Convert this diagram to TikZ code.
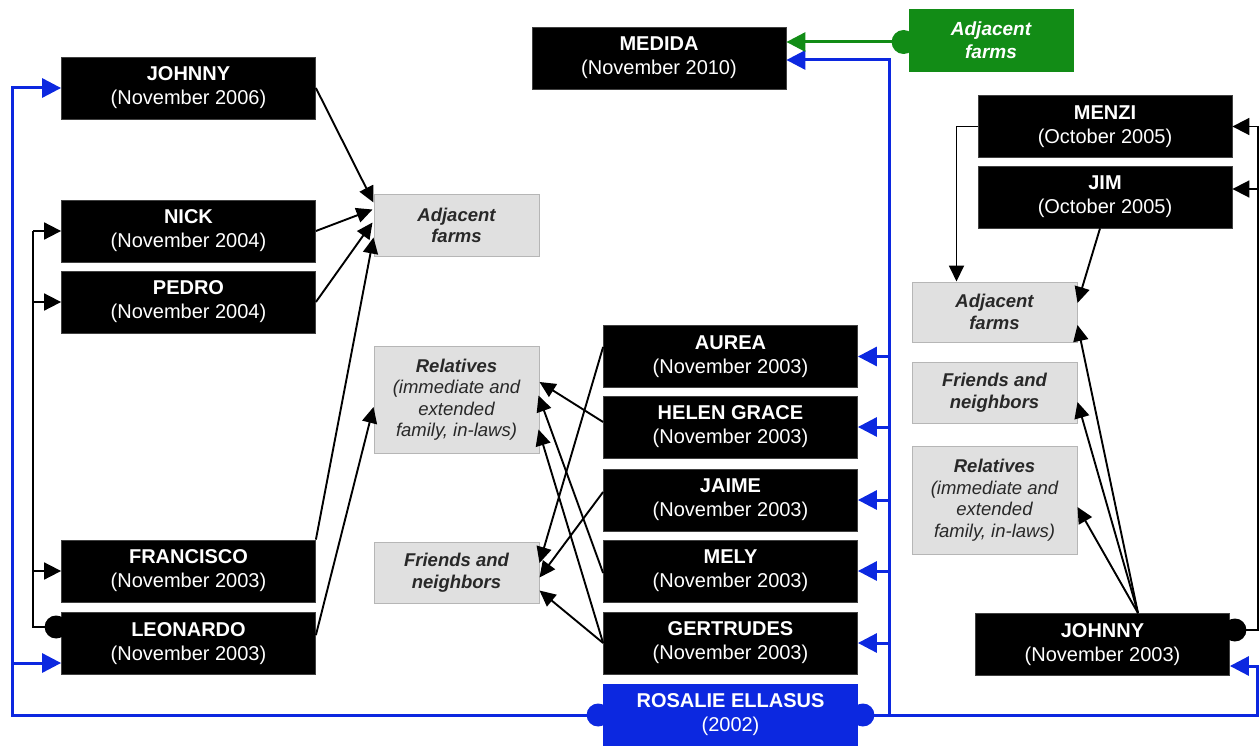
\documentclass[tikz,border=0pt]{standalone}
\usepackage{fontspec}
\setmainfont{Liberation Sans}
\usetikzlibrary{arrows.meta,calc}
\definecolor{rosablue}{RGB}{12,40,224}
\definecolor{farmgreen}{RGB}{18,140,22}
\definecolor{boxgray}{RGB}{224,224,224}
\definecolor{edgegray}{RGB}{182,182,182}
\definecolor{labelgray}{RGB}{40,40,40}
\begin{document}
\begin{tikzpicture}[x=1pt,y=-1pt,
  person/.style={rectangle, fill=black, draw=black!75, line width=0.8pt, text=white,
    minimum width=254pt, minimum height=62pt, inner sep=0pt, align=center,
    font=\fontsize{20}{24}\selectfont},
  source/.style={rectangle, fill=boxgray, draw=edgegray, line width=1pt, text=labelgray,
    minimum width=165pt, minimum height=61pt, inner sep=0pt, align=center,
    font=\fontsize{18.5}{21.5}\selectfont\itshape},
  conn/.style={draw=black, line width=1.9pt, -{Triangle[length=16pt,width=15pt]}},
  kbus/.style={draw=black, line width=1.8pt},
  karrow/.style={kbus, -{Triangle[length=17pt,width=17pt]}},
  bbus/.style={draw=rosablue, line width=3pt},
  barrow/.style={bbus, -{Triangle[length=19pt,width=19pt]}},
]
\useasboundingbox (0,0) rectangle (1260,746);

% ---- people, left column
\node[person] (johnnyL)  at (188.5,88)    {\textbf{JOHNNY}\\(November 2006)};
\node[person] (nick)     at (188.5,231)   {\textbf{NICK}\\(November 2004)};
\node[person] (pedro)    at (188.5,302)   {\textbf{PEDRO}\\(November 2004)};
\node[person] (francisco)at (188.5,571)   {\textbf{FRANCISCO}\\(November 2003)};
\node[person] (leonardo) at (188.5,643.5) {\textbf{LEONARDO}\\(November 2003)};

% ---- people, middle column
\node[person] (medida)    at (659,58)     {\textbf{MEDIDA}\\(November 2010)};
\node[person] (aurea)     at (730.5,356.5){\textbf{AUREA}\\(November 2003)};
\node[person] (helen)     at (730.5,427)  {\textbf{HELEN GRACE}\\(November 2003)};
\node[person] (jaime)     at (730.5,500)  {\textbf{JAIME}\\(November 2003)};
\node[person] (mely)      at (730.5,571)  {\textbf{MELY}\\(November 2003)};
\node[person] (gertrudes) at (730.5,643)  {\textbf{GERTRUDES}\\(November 2003)};
\node[person, fill=rosablue, draw=rosablue] (rosalie) at (730.5,715)
  {\textbf{ROSALIE ELLASUS}\\(2002)};

% ---- people, right column
\node[person] (menzi)   at (1105,126.5)  {\textbf{MENZI}\\(October 2005)};
\node[person] (jim)     at (1105,197)    {\textbf{JIM}\\(October 2005)};
\node[person] (johnnyR) at (1102.5,644.5){\textbf{JOHNNY}\\(November 2003)};

% ---- sources of information
\node[person, fill=farmgreen, draw=farmgreen, minimum width=164pt,
  font=\fontsize{19}{23}\selectfont\bfseries\itshape] (adjG) at (991,40) {Adjacent\\farms};
\node[source] (adjL) at (456.5,225.5) {\bfseries Adjacent\\\bfseries farms};
\node[source, minimum height=107pt] (relL) at (456.5,399.5)
  {\textbf{Relatives}\\(immediate and\\extended\\family, in-laws)};
\node[source] (friL) at (456.5,572.5) {\bfseries Friends and\\\bfseries neighbors};
\node[source, minimum height=60pt] (adjR) at (994.5,312) {\bfseries Adjacent\\\bfseries farms};
\node[source] (friR) at (994.5,392.5) {\bfseries Friends and\\\bfseries neighbors};
\node[source, minimum height=108pt] (relR) at (994.5,500)
  {\textbf{Relatives}\\(immediate and\\extended\\family, in-laws)};

% ---- bus positions and attachment points
\coordinate (bL) at (12,0);
\coordinate (bM) at (889,0);
\coordinate (bR) at (1257,0);
\coordinate (kL) at (33,0);
\coordinate (kR) at (1258,0);
\coordinate (rosW)  at ($(rosalie.west)+(-5,0)$);
\coordinate (rosE)  at ($(rosalie.east)+(5,0)$);
\coordinate (greenW) at ($(adjG.west)+(-5,2)$);
\coordinate (leoDot) at ($(leonardo.west)+(-5,-16.5)$);
\coordinate (jrDot)  at ($(johnnyR.east)+(5,-14.5)$);
\coordinate (leoIn)  at ($(leonardo.west)+(0,19.5)$);
\coordinate (medIn)  at ($(medida.east)+(0,2)$);
\coordinate (jrIn)   at ($(johnnyR.east)+(0,21.5)$);
\coordinate (jimIn)  at ($(jim.east)+(0,-8)$);

% ---- blue: Rosalie reaching everybody
\draw[barrow] (rosW) -- (bL |- rosW) -- (bL |- johnnyL.west) -- (johnnyL.west);
\draw[barrow] (bL |- leoIn) -- (leoIn);
\draw[barrow] (rosE) -- (bM |- rosE) -- (bM |- medIn) -- (medIn);
\foreach \n in {aurea,helen,jaime,mely,gertrudes}
  \draw[barrow] (bM |- \n.east) -- (\n.east);
\draw[barrow] (bM |- rosE) -- (bR |- rosE) -- (bR |- jrIn) -- (jrIn);
\fill[rosablue] (rosW) circle (11.5pt);
\fill[rosablue] (rosE) circle (11.5pt);

% ---- green: adjacent farms to Medida
\draw[draw=farmgreen, line width=3pt, -{Triangle[length=19pt,width=19pt]}]
  (greenW) -- (medida.east |- greenW);
\fill[farmgreen] (greenW) circle (12pt);

% ---- black bus, left: Leonardo to Nick, Pedro, Francisco
\draw[kbus] (leoDot) -- (kL |- leoDot) -- (kL |- nick.west);
\foreach \n in {nick,pedro,francisco}
  \draw[karrow] (kL |- \n.west) -- (\n.west);
\fill[black] (leoDot) circle (11.5pt);

% ---- black bus, right: Johnny to Menzi and Jim
\draw[kbus] (jrDot) -- (kR |- jrDot) -- (kR |- menzi.east);
\draw[karrow] (kR |- menzi.east) -- (menzi.east);
\draw[karrow] (kR |- jimIn) -- (jimIn);
\fill[black] (jrDot) circle (11.5pt);

% ---- left group sources
\draw[conn] (johnnyL.east) -- ($(adjL.north west)+(0,8)$);
\draw[conn] (nick.east) -- ($(adjL.north west)+(-1,15)$);
\draw[conn] (pedro.east) -- ($(adjL.west)+(-1,-3)$);
\draw[conn] (francisco.north east) -- ($(adjL.south west)+(0,-19)$);
\draw[conn] ($(leonardo.north east)+(0,23)$) -- ($(relL.west)+(0,7.5)$);

% ---- middle group sources
\draw[conn] ($(aurea.west)+(0,-9.5)$) -- ($(friL.east)+(0,-9.5)$);
\draw[conn] ($(helen.west)+(0,-5)$) -- ($(relL.east)+(0,-17.5)$);
\draw[conn] ($(jaime.west)+(0,-8)$) -- ($(friL.east)+(0,5)$);
\draw[conn] ($(mely.west)+(0,2)$) -- ($(relL.east)+(-1,-4)$);
\draw[conn] (gertrudes.west) -- ($(relL.east)+(-1,30)$);
\draw[conn] (gertrudes.west) -- ($(friL.east)+(0,18)$);

% ---- right group sources
\draw[conn] (menzi.west) -| ($(adjR.north west)+(45,0)$);
\draw[conn] ($(jim.south)+(-5,0)$) -- ($(adjR.east)+(0,-9)$);
\coordinate (jrTop) at ($(johnnyR.north)+(35.5,0)$);
\draw[conn] (jrTop) -- ($(adjR.east)+(0,13)$);
\draw[conn] (jrTop) -- ($(friR.east)+(0,9.5)$);
\draw[conn] (jrTop) -- ($(relR.east)+(0,7)$);
\end{tikzpicture}
\end{document}
